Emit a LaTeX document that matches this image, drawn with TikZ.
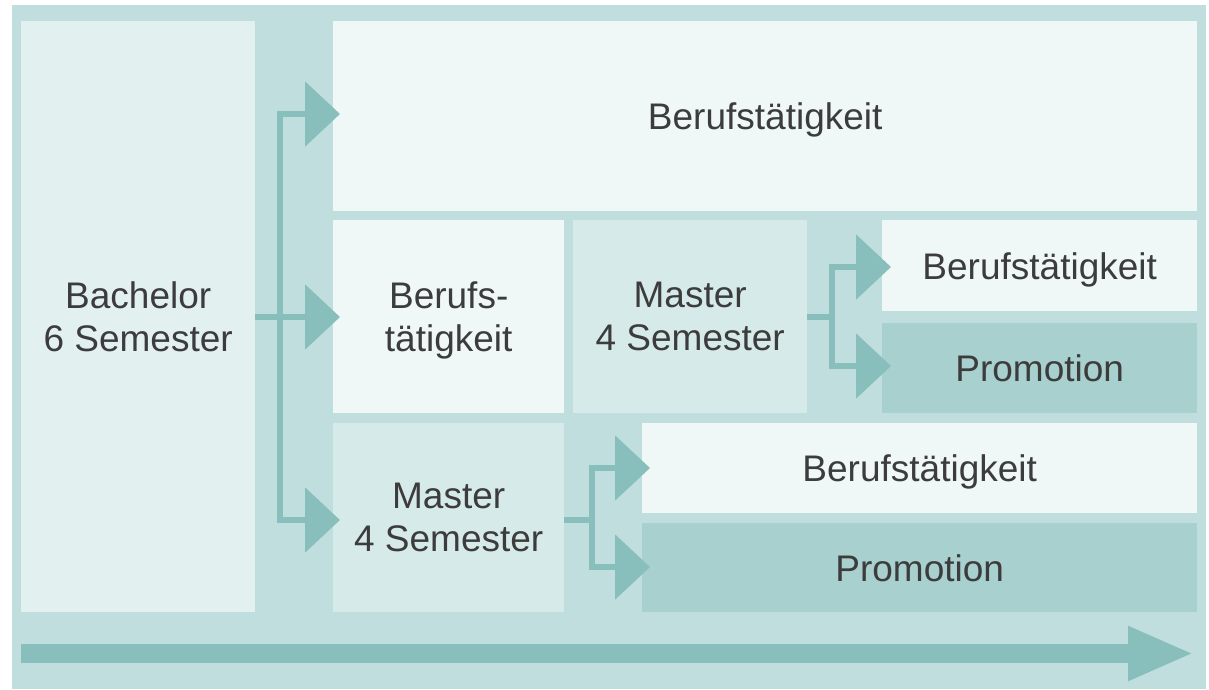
\documentclass[tikz,border=0pt]{standalone}
\usepackage{fontspec}
\setmainfont{Liberation Sans}
\usetikzlibrary{arrows.meta}
\definecolor{bgc}{HTML}{BFDEDD}
\definecolor{arc}{HTML}{88BFBC}
\definecolor{bachc}{HTML}{E2F0F0}
\definecolor{berc}{HTML}{EFF8F7}
\definecolor{masc}{HTML}{D6EAEA}
\definecolor{proc}{HTML}{A7D0CE}
\definecolor{txc}{HTML}{3C3C3C}
\begin{document}
\begin{tikzpicture}[x=1pt,y=-1pt,
  box/.style={inner sep=0pt, anchor=north west, align=center, text=txc,
    font=\fontsize{37}{43}\selectfont},
  one/.style={text depth=0pt},
  conn/.style={draw=arc, line width=6pt, line join=miter},
  tipsmall/.style={-{Triangle[length=35pt,width=64pt]}},
  tipboth/.style={{Triangle[length=35pt,width=64pt]}-{Triangle[length=35pt,width=64pt]}}]
\useasboundingbox (0,0) rectangle (1209,689);
\fill[bgc] (12,5) rectangle (1206,689);
% boxes
\node[box, fill=bachc, minimum width=234pt, minimum height=591pt] (bach) at (21,21) {Bachelor\\6 Semester};
\node[box, one, fill=berc, minimum width=864pt, minimum height=190pt] (top) at (333,21) {Berufstätigkeit};
\node[box, fill=berc, minimum width=231pt, minimum height=193pt] (mb1) at (333,220) {Berufs-\\täti\smash{g}keit};
\node[box, fill=masc, minimum width=234pt, minimum height=193pt] (mm1) at (573,220) {Master\\4 Semester};
\node[box, one, fill=berc, minimum width=315pt, minimum height=91pt] (mb2) at (882,220) {Berufstätigkeit};
\node[box, one, fill=proc, minimum width=315pt, minimum height=90pt] (mp2) at (882,323) {Promotion};
\node[box, fill=masc, minimum width=231pt, minimum height=189pt] (lm) at (333,423) {Master\\4 Semester};
\node[box, one, fill=berc, minimum width=555pt, minimum height=90pt] (lb) at (642,423) {Berufstätigkeit};
\node[box, one, fill=proc, minimum width=555pt, minimum height=89pt] (lp) at (642,523) {Promotion};
% coordinates
\coordinate (t1) at (340,114);
\coordinate (t2) at (340,317);
\coordinate (t3) at (340,520);
\coordinate (t4) at (891,267);
\coordinate (t5) at (891,366);
\coordinate (t6) at (650,468);
\coordinate (t7) at (650,567);
% Bachelor fork
\draw[conn, tipboth] (t1) -- (280,114) -- (280,520) -- (t3);
\draw[conn, tipsmall] (bach.east |- t2) -- (t2);
% middle fork
\draw[conn, tipboth] (t4) -- (832,267) -- (832,366) -- (t5);
\draw[conn] (mm1.east |- 0,317) -- (832,317);
% lower fork
\draw[conn, tipboth] (t6) -- (592,468) -- (592,567) -- (t7);
\draw[conn] (lm.east |- 0,520) -- (592,520);
% time arrow
\coordinate (ts) at (21,653.5);
\coordinate (te) at (1194,653.5);
\draw[draw=arc, line width=19pt, -{Triangle[length=66pt,width=50pt]}] (ts) -- (te);
\end{tikzpicture}
\end{document}
